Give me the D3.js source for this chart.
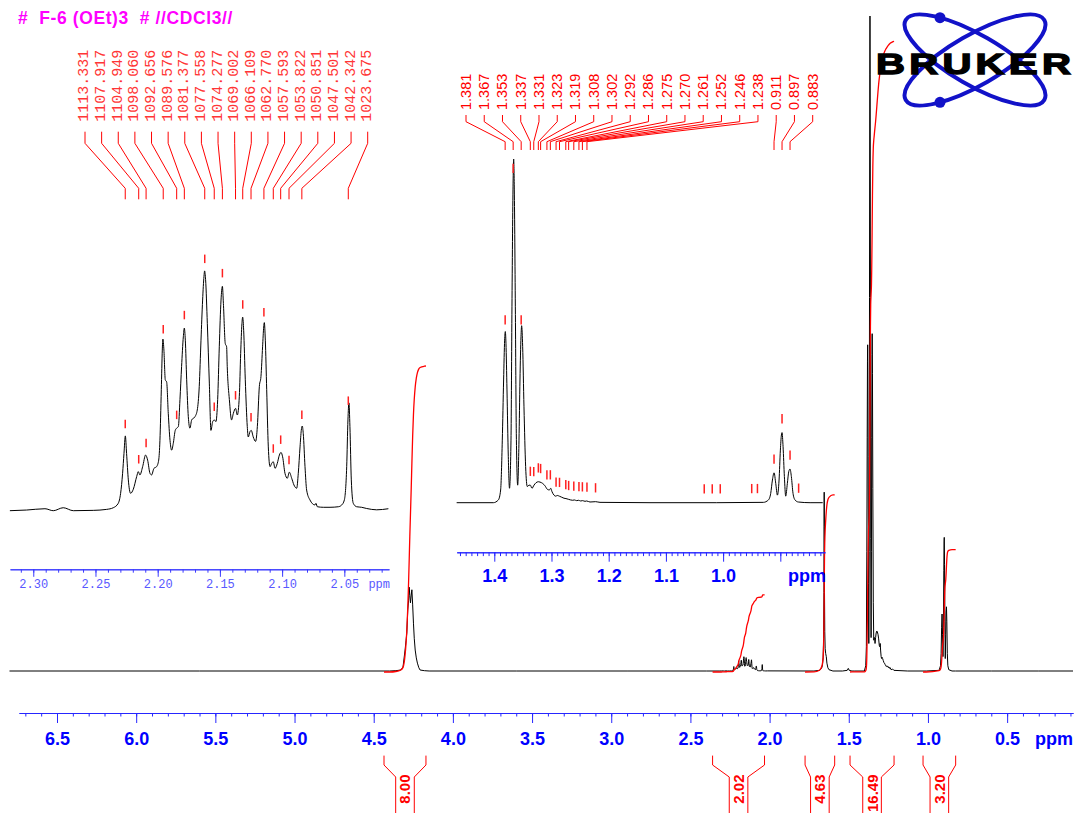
<!DOCTYPE html>
<html>
<head>
<meta charset="utf-8">
<script src="https://cdn.jsdelivr.net/npm/d3@7"></script>
<style>
  html, body { margin: 0; padding: 0; background: #ffffff; }
  svg { display: block; }
</style>
</head>
<body>
<svg id="chart" width="1077" height="813"></svg>
<script>
// ---------------------------------------------------------------
// 1H NMR spectrum, 500.13 MHz, CDCl3
// ---------------------------------------------------------------
const titleText = "#  F-6 (OEt)3  # //CDCl3//";
const logoText = "BRUKER";
const spectrometerMHz = 500.13;

// Main axis ticks (ppm)
const mainMajorTicks = [6.5, 6.0, 5.5, 5.0, 4.5, 4.0, 3.5, 3.0, 2.5, 2.0, 1.5, 1.0, 0.5];
const mainMinorTicks = [6.7,6.6,6.5,6.4,6.3,6.2,6.1,6.0,5.9,5.8,5.7,5.6,5.5,5.4,5.3,5.2,5.1,5.0,4.9,4.8,4.7,4.6,4.5,4.4,4.3,4.2,4.1,4.0,3.9,3.8,3.7,3.6,3.5,3.4,3.3,3.2,3.1,3.0,2.9,2.8,2.7,2.6,2.5,2.4,2.3,2.2,2.1,2.0,1.9,1.8,1.7,1.6,1.5,1.4,1.3,1.2,1.1,1.0,0.9,0.8,0.7,0.6,0.5,0.4,0.3,0.2,0.1];

// Expansion 2.32 - 2.01 ppm ticks
const leftMajorTicks = [2.30, 2.25, 2.20, 2.15, 2.10, 2.05];
const leftMinorTicks = [2.31,2.30,2.29,2.28,2.27,2.26,2.25,2.24,2.23,2.22,2.21,2.20,2.19,2.18,2.17,2.16,2.15,2.14,2.13,2.12,2.11,2.10,2.09,2.08,2.07,2.06,2.05,2.04,2.03,2.02];

// Expansion 1.47 - 0.82 ppm ticks (0.9 tick carries the "ppm" unit instead of a number)
const rightMajorTicks = [1.4, 1.3, 1.2, 1.1, 1.0, 0.9];
const rightLabelledTicks = [1.4, 1.3, 1.2, 1.1, 1.0];
const rightMinorTicks = [1.46,1.45,1.44,1.43,1.42,1.41,1.40,1.39,1.38,1.37,1.36,1.35,1.34,1.33,1.32,1.31,1.30,1.29,1.28,1.27,1.26,1.25,1.24,1.23,1.22,1.21,1.20,1.19,1.18,1.17,1.16,1.15,1.14,1.13,1.12,1.11,1.10,1.09,1.08,1.07,1.06,1.05,1.04,1.03,1.02,1.01,1.00,0.99,0.98,0.97,0.96,0.95,0.94,0.93,0.92,0.91,0.90,0.89,0.88,0.87,0.86,0.85,0.84,0.83];

// Spectrum trace, [ppm, relative intensity] (tallest line 1.367 ppm = 100)
const baselineLow = [[6.80, 0], [5.60, 0], [4.40, 0]];
const traceOCH2 = [[4.400,0],[4.360,0.05],[4.329,0.15],[4.315,0.6],[4.302,3.2],[4.296,4.6],[4.291,5.8],[4.285,9.3],[4.280,10.7],[4.276,12.8],[4.272,11.5],[4.268,10.4],[4.263,11.6],[4.259,12.4],[4.254,10.1],[4.249,7.3],[4.244,5.0],[4.238,3.2],[4.231,2.0],[4.224,1.2],[4.215,0.5],[4.207,0.15],[4.180,0.05],[4.150,0]];
const baselineMid = [[3.60, 0], [2.90, 0], [2.40, 0]];
const traceCH = [[2.3188,0],[2.3054,0.006],[2.2906,0.018],[2.2839,0],[2.2759,0.027],[2.2678,0],[2.2518,0.003],[2.2410,0.012],[2.2357,0.027],[2.2317,0.067],[2.2298,0.158],[2.2282,0.34],[2.2271,0.52],[2.2260,0.68],[2.2250,0.52],[2.2236,0.28],[2.2218,0.158],[2.2196,0.195],[2.2169,0.31],[2.2156,0.355],[2.2143,0.325],[2.2121,0.40],[2.2097,0.506],[2.2081,0.46],[2.2062,0.34],[2.2049,0.325],[2.2030,0.385],[2.2009,0.40],[2.1992,0.46],[2.1982,0.64],[2.1971,1.10],[2.1963,1.46],[2.1958,1.56],[2.1950,1.46],[2.1939,1.19],[2.1928,1.17],[2.1915,0.885],[2.1901,0.64],[2.1888,0.55],[2.1875,0.61],[2.1859,0.73],[2.1848,0.75],[2.1834,0.765],[2.1821,1.01],[2.1808,1.31],[2.1794,1.58],[2.1786,1.66],[2.1778,1.55],[2.1767,1.19],[2.1754,0.855],[2.1741,0.75],[2.1727,0.825],[2.1700,0.855],[2.1682,0.915],[2.1666,1.13],[2.1652,1.55],[2.1639,1.915],[2.1628,2.13],[2.1623,2.18],[2.1615,2.10],[2.1601,1.70],[2.1585,1.16],[2.1572,0.73],[2.1558,0.81],[2.1545,0.825],[2.1532,0.81],[2.1518,1.01],[2.1505,1.49],[2.1491,1.915],[2.1480,2.04],[2.1472,1.885],[2.1457,1.52],[2.1446,1.49],[2.1441,1.31],[2.1424,1.01],[2.1406,0.825],[2.1392,0.885],[2.1374,0.93],[2.1360,0.87],[2.1344,1.04],[2.1333,1.43],[2.1323,1.70],[2.1317,1.76],[2.1309,1.64],[2.1296,1.19],[2.1280,0.765],[2.1272,0.67],[2.1258,0.72],[2.1248,0.73],[2.1232,0.67],[2.1213,0.63],[2.1199,0.765],[2.1183,1.13],[2.1170,1.22],[2.1157,1.49],[2.1148,1.67],[2.1143,1.71],[2.1135,1.55],[2.1124,1.10],[2.1111,0.58],[2.1097,0.40],[2.1084,0.43],[2.1071,0.445],[2.1057,0.385],[2.1039,0.43],[2.1022,0.506],[2.1009,0.53],[2.0996,0.49],[2.0977,0.34],[2.0958,0.295],[2.0942,0.35],[2.0923,0.295],[2.0905,0.234],[2.0883,0.204],[2.0870,0.34],[2.0856,0.58],[2.0846,0.73],[2.0838,0.77],[2.0830,0.70],[2.0816,0.40],[2.0803,0.188],[2.0776,0.097],[2.0736,0.052],[2.0728,0.067],[2.0717,0.036],[2.0669,0.031],[2.0615,0.031],[2.0548,0.036],[2.0521,0.052],[2.0500,0.097],[2.0481,0.40],[2.0471,0.825],[2.0463,0.98],[2.0455,0.765],[2.0444,0.28],[2.0428,0.067],[2.0401,0.036],[2.0361,0.031],[2.0320,0.02],[2.0240,0.008],[2.0146,0.018]];
const traceSinglet = [[1.720,0],[1.685,0.1],[1.672,0.4],[1.666,0.9],[1.662,2.0],[1.659,5],[1.657,12],[1.6558,22],[1.6552,27.3],[1.6545,22],[1.6532,12],[1.6515,6],[1.649,3.4],[1.646,2.7],[1.642,2.2],[1.638,1.2],[1.632,0.5],[1.625,0.2],[1.600,0],[1.540,0],[1.510,0.1],[1.503,0.4],[1.497,0.1],[1.480,0]];
const traceCH3 = [[1.4658,0],[1.4017,0],[1.3929,0.8],[1.3889,3.7],[1.3860,18.2],[1.3837,35.7],[1.3819,47.3],[1.3807,49.8],[1.3796,46.4],[1.3778,32.8],[1.3755,13.4],[1.3734,4.2],[1.3708,18.2],[1.3691,57],[1.3673,91],[1.3661,100],[1.3650,91],[1.3632,57],[1.3615,20.2],[1.3591,5.1],[1.3568,18.2],[1.3551,35.7],[1.3533,48.3],[1.3522,51.5],[1.3504,45.4],[1.3481,27.9],[1.3452,10.5],[1.3423,4.7],[1.3393,5.1],[1.3370,5.1],[1.3341,4.2],[1.3306,5.1],[1.3271,5.8],[1.3230,6.1],[1.3201,6.0],[1.3154,5.6],[1.3113,4.9],[1.3073,3.9],[1.3038,3.7],[1.3014,4.2],[1.2991,3.2],[1.2956,2.2],[1.2927,1.9],[1.2898,2.1],[1.2863,1.9],[1.2822,1.6],[1.2782,1.3],[1.2747,1.2],[1.2706,1.0],[1.2665,0.8],[1.2630,0.7],[1.2601,0.8],[1.2560,0.6],[1.2525,0.7],[1.2490,0.5],[1.2455,0.6],[1.2414,0.4],[1.2385,0.5],[1.2327,0.2],[1.2228,0.3],[1.2152,0.1],[1.1278,0],[1.0111,0],[0.9296,0.1],[0.9208,0.8],[0.9168,2.7],[0.9138,6.6],[0.9109,8.7],[0.9080,5.6],[0.9051,2.2],[0.9022,6.6],[0.8999,15.3],[0.8981,19.7],[0.8970,20.4],[0.8952,16.3],[0.8929,7.6],[0.8906,1.9],[0.8877,5.6],[0.8853,9.0],[0.8830,9.8],[0.8807,7.6],[0.8778,2.7],[0.8743,0.8],[0.8685,0.2],[0.8480,0],[0.8259,0]];
const baselineHigh = [[0.60, 0], [0.30, 0], [0.084, 0]];

// Integrals: region limits (ppm) and values
const integralFrom   = [4.435, 2.360, 1.776, 1.492, 1.031];
const integralTo     = [4.170, 2.032, 1.589, 1.214, 0.825];
const integralValues = [8.00, 2.02, 4.63, 16.49, 3.20];

// Peak picking: 2.32-2.01 ppm expansion (listed in Hz)
const peaksHz = [1113.331, 1107.917, 1104.949, 1098.060, 1092.656, 1089.576, 1081.377, 1077.558, 1074.277, 1069.002, 1066.109, 1062.770, 1057.593, 1053.822, 1050.851, 1047.501, 1042.342, 1023.675];
// Peak picking: 1.47-0.82 ppm expansion (listed in ppm)
const peaksPpm = [1.381, 1.367, 1.353, 1.337, 1.331, 1.323, 1.319, 1.308, 1.302, 1.292, 1.286, 1.275, 1.270, 1.261, 1.252, 1.246, 1.238, 0.911, 0.897, 0.883];
// Further picked positions without a printed value
const extraPicksPpm = [1.223, 1.033, 1.019, 1.005, 0.950, 0.940, 0.868];

// ---------------------------------------------------------------
const svg = d3.select("#chart");
const SANS = "'Liberation Sans', Arial, Helvetica, sans-serif";
const MONO = "'Liberation Mono', 'Courier New', Courier, monospace";
const BLUE = "#0000ff";
const RED = "#ff0000";

const mainTrace = [].concat(baselineLow, traceOCH2, baselineMid, traceCH, traceSinglet, traceCH3, baselineHigh)
  .sort((a, b) => b[0] - a[0]);

function intensityAt(trace, ppm) {
  for (let i = 1; i < trace.length; i++) {
    const a = trace[i - 1], b = trace[i];
    if (ppm <= a[0] && ppm >= b[0]) {
      const t = (a[0] - ppm) / (a[0] - b[0] || 1);
      return a[1] + t * (b[1] - a[1]);
    }
  }
  return 0;
}

// Running integral of the trace over [lo, hi], scaled so the end value equals `value`
function runningIntegral(trace, hi, lo, value) {
  const pts = [[hi, intensityAt(trace, hi)]]
    .concat(trace.filter(d => d[0] < hi && d[0] > lo))
    .concat([[lo, intensityAt(trace, lo)]]);
  const out = [[pts[0][0], 0]];
  let acc = 0;
  for (let i = 1; i < pts.length; i++) {
    acc += (pts[i - 1][0] - pts[i][0]) * (pts[i - 1][1] + pts[i][1]) / 2;
    out.push([pts[i][0], acc]);
  }
  return out.map(d => [d[0], d[1] / acc * value]);
}

// ---------------- scales ----------------
const xMain = d3.scaleLinear().domain([6.74, 0.084]).range([19, 1073]);
const yMain = d3.scaleLinear().domain([0, 100]).range([671, 16]);
const yIntegral = d3.scaleLinear().domain([0, 1]).range([672, 633.75]);

const xLeft = d3.scaleLinear().domain([2.3187, 2.0141]).range([10, 389]);
const yLeft = d3.scaleLinear().domain([0, 2.18]).range([510.7, 270.9]);

const xRight = d3.scaleLinear().domain([1.4657, 0.8219]).range([456.7, 825]);
const yRight = d3.scaleLinear().domain([0, 100]).range([502.7, 159]);

// ---------------- main spectrum ----------------
const mainLine = d3.line().x(d => xMain(d[0])).y(d => yMain(d[1]));
svg.append("path")
  .datum(mainTrace.filter(d => d[0] <= 6.80 && d[0] >= 0.084))
  .attr("d", mainLine)
  .attr("fill", "none").attr("stroke", "#000").attr("stroke-width", 1);

// integral curves
const intLine = d3.line().curve(d3.curveMonotoneX).x(d => xMain(d[0])).y(d => yIntegral(d[1]));
integralValues.forEach((v, i) => {
  svg.append("path")
    .datum(runningIntegral(mainTrace, integralFrom[i], integralTo[i], v))
    .attr("d", intLine)
    .attr("fill", "none").attr("stroke", RED).attr("stroke-width", 1.3);
});

// main axis
function styleAxis(g, color) {
  g.select(".domain").attr("stroke", color).attr("stroke-width", 1);
  g.selectAll(".tick line").attr("stroke", color).attr("stroke-width", 1);
}
const gMainMinor = svg.append("g").attr("transform", "translate(0,713)")
  .call(d3.axisBottom(xMain).tickValues(mainMinorTicks).tickSizeInner(3.5).tickSizeOuter(0).tickFormat(""));
styleAxis(gMainMinor, "#2626ff");
const gMain = svg.append("g").attr("transform", "translate(0,713)")
  .call(d3.axisBottom(xMain).tickValues(mainMajorTicks).tickSizeInner(10).tickSizeOuter(0).tickFormat(d3.format(".1f")));
styleAxis(gMain, "#2626ff");
gMain.selectAll(".tick text")
  .attr("y", 32).attr("dy", null)
  .attr("fill", BLUE).attr("font-family", SANS).attr("font-weight", "bold").attr("font-size", 18);
svg.append("text").attr("x", 1073).attr("y", 745).attr("text-anchor", "end")
  .attr("fill", BLUE).attr("font-family", SANS).attr("font-weight", "bold").attr("font-size", 18)
  .text("ppm");

// integral brackets under the axis
integralValues.forEach((v, i) => {
  const x0 = xMain(integralFrom[i]), x1 = xMain(integralTo[i]);
  const xc = (x0 + x1) / 2, half = 9.3;
  const g = svg.append("g");
  g.append("path")
    .attr("d", `M${x0},755.6 V765 L${xc - half},777 V813 M${x1},755.6 V765 L${xc + half},777 V813`)
    .attr("fill", "none").attr("stroke", RED).attr("stroke-width", 1);
  g.append("text")
    .attr("x", xc).attr("y", 774.5)
    .attr("transform", `rotate(-90,${xc},774.5)`)
    .attr("text-anchor", "end").attr("dominant-baseline", "central")
    .attr("fill", RED).attr("font-family", SANS).attr("font-weight", "bold").attr("font-size", 15)
    .text(d3.format(".2f")(v));
});

// ---------------- expansion 2.32 - 2.01 ppm ----------------
const leftTrace = traceCH.filter(d => d[0] <= 2.3188 && d[0] >= 2.0141);
svg.append("path").datum(leftTrace)
  .attr("d", d3.line().curve(d3.curveMonotoneX).x(d => xLeft(d[0])).y(d => yLeft(d[1])))
  .attr("fill", "none").attr("stroke", "#000").attr("stroke-width", 1);

const gLeftMinor = svg.append("g").attr("transform", "translate(0,569.3)")
  .call(d3.axisBottom(xLeft).tickValues(leftMinorTicks).tickSizeInner(3.4).tickSizeOuter(0).tickFormat(""));
styleAxis(gLeftMinor, "#3a3aff");
const gLeft = svg.append("g").attr("transform", "translate(0,569.3)")
  .call(d3.axisBottom(xLeft).tickValues(leftMajorTicks).tickSizeInner(7.5).tickSizeOuter(0).tickFormat(d3.format(".2f")));
styleAxis(gLeft, "#3a3aff");
gLeft.selectAll(".tick text")
  .attr("y", 19).attr("dy", null)
  .attr("fill", "#5858ff").attr("font-family", MONO).attr("font-size", 12);
svg.append("text").attr("x", 390).attr("y", 588.3).attr("text-anchor", "end")
  .attr("fill", "#5858ff").attr("font-family", MONO).attr("font-size", 12).text("ppm");

// peak markers
const leftPeakPpm = peaksHz.map(h => h / spectrometerMHz);
svg.append("g").selectAll("line").data(leftPeakPpm).join("line")
  .attr("x1", d => xLeft(d)).attr("x2", d => xLeft(d))
  .attr("y1", d => yLeft(intensityAt(traceCH, d)) - 17.5)
  .attr("y2", d => yLeft(intensityAt(traceCH, d)) - 9)
  .attr("stroke", "#ff2020").attr("stroke-width", 1.5);

// labels and leaders
const leftLabelX = d3.scalePoint().domain(d3.range(peaksHz.length)).range([85, 367.7]);
const gLeftLab = svg.append("g");
peaksHz.forEach((h, i) => {
  const lx = leftLabelX(i), px = xLeft(leftPeakPpm[i]);
  gLeftLab.append("path")
    .attr("d", `M${lx},131.7 V143.3 L${px},188.3 V199.3`)
    .attr("fill", "none").attr("stroke", RED).attr("stroke-width", 1);
  gLeftLab.append("text")
    .attr("x", lx).attr("y", 121.7)
    .attr("transform", `rotate(-90,${lx},121.7)`)
    .attr("dominant-baseline", "central")
    .attr("fill", "#ff3535").attr("font-family", MONO).attr("font-size", 15)
    .text(d3.format(".3f")(h));
});

// ---------------- expansion 1.47 - 0.82 ppm ----------------
const rightTrace = traceCH3.filter(d => d[0] <= 1.4658 && d[0] >= 0.8219);
svg.append("path").datum(rightTrace)
  .attr("d", d3.line().curve(d3.curveMonotoneX).x(d => xRight(d[0])).y(d => yRight(d[1])))
  .attr("fill", "none").attr("stroke", "#000").attr("stroke-width", 1);

const gRightMinor = svg.append("g").attr("transform", "translate(0,552.3)")
  .call(d3.axisBottom(xRight).tickValues(rightMinorTicks).tickSizeInner(3.8).tickSizeOuter(0).tickFormat(""));
styleAxis(gRightMinor, "#2626ff");
const gRight = svg.append("g").attr("transform", "translate(0,552.3)")
  .call(d3.axisBottom(xRight).tickValues(rightMajorTicks).tickSizeInner(9.4).tickSizeOuter(0)
    .tickFormat(d => rightLabelledTicks.includes(d) ? d3.format(".1f")(d) : ""));
styleAxis(gRight, "#2626ff");
gRight.selectAll(".tick text")
  .attr("y", 29.5).attr("dy", null)
  .attr("fill", BLUE).attr("font-family", SANS).attr("font-weight", "bold").attr("font-size", 18);
svg.append("text").attr("x", 826).attr("y", 581.8).attr("text-anchor", "end")
  .attr("fill", BLUE).attr("font-family", SANS).attr("font-weight", "bold").attr("font-size", 18)
  .text("ppm");

svg.append("g").selectAll("line").data(peaksPpm.concat(extraPicksPpm)).join("line")
  .attr("x1", d => xRight(d)).attr("x2", d => xRight(d))
  .attr("y1", d => yRight(intensityAt(traceCH3, d)) - 18.5)
  .attr("y2", d => yRight(intensityAt(traceCH3, d)) - 9.2)
  .attr("stroke", "#ff2020").attr("stroke-width", 1.5);

const rightLabelX = d3.scalePoint().domain(d3.range(peaksPpm.length)).range([466, 812.7]);
const gRightLab = svg.append("g");
peaksPpm.forEach((p, i) => {
  const lx = rightLabelX(i), px = xRight(p);
  gRightLab.append("path")
    .attr("d", `M${lx},115 V121.7 L${px},141.7 V150`)
    .attr("fill", "none").attr("stroke", RED).attr("stroke-width", 1);
  gRightLab.append("text")
    .attr("x", lx).attr("y", 110)
    .attr("transform", `rotate(-90,${lx},110)`)
    .attr("dominant-baseline", "central")
    .attr("fill", RED).attr("font-family", SANS).attr("font-size", 14.5)
    .text(d3.format(".3f")(p));
});

// ---------------- title ----------------
svg.append("text").attr("x", 18).attr("y", 24)
  .attr("fill", "#ff00ff").attr("font-family", SANS).attr("font-weight", "bold").attr("font-size", 17.5)
  .attr("letter-spacing", 0.6)
  .attr("xml:space", "preserve").style("white-space", "pre")
  .text(titleText);

// ---------------- logo ----------------
const logo = svg.append("g");
[30, -30].forEach(a => {
  logo.append("ellipse")
    .attr("cx", 975).attr("cy", 60).attr("rx", 80).attr("ry", 25)
    .attr("transform", `rotate(${a},975,60)`)
    .attr("fill", "none").attr("stroke", "#1212c8").attr("stroke-width", 4);
});
logo.append("circle").attr("cx", 940).attr("cy", 17.7).attr("r", 5.5).attr("fill", "#1212c8");
logo.append("circle").attr("cx", 940).attr("cy", 102.3).attr("r", 5.5).attr("fill", "#1212c8");
const letterX = d3.scalePoint().domain(d3.range(logoText.length)).range([876, 1042]);
logo.selectAll("text.letter").data(logoText.split("")).join("text")
  .attr("class", "letter")
  .attr("x", (d, i) => letterX(i)).attr("y", 74)
  .attr("textLength", 29).attr("lengthAdjust", "spacingAndGlyphs")
  .attr("fill", "#000").attr("stroke", "#000").attr("stroke-width", 1.3)
  .attr("font-family", SANS).attr("font-weight", "bold").attr("font-size", 29)
  .text(d => d);
</script>
</body>
</html>
